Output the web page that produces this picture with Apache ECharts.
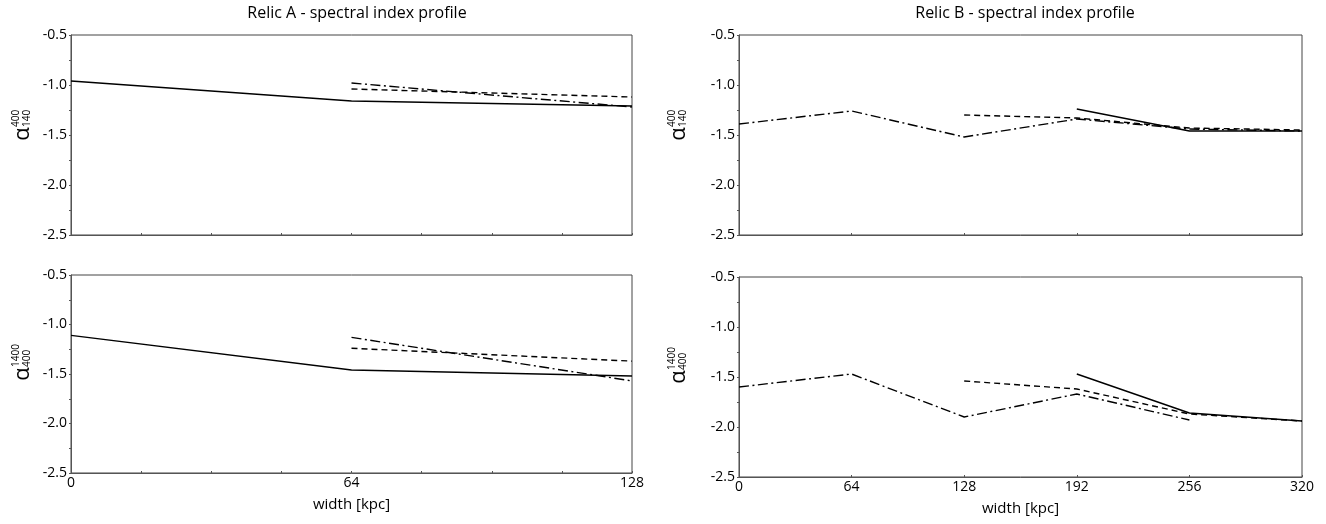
<!DOCTYPE html>
<html>
<head>
<meta charset="utf-8">
<script src="https://cdn.jsdelivr.net/npm/echarts@6/dist/echarts.min.js"></script>
<style>
html,body{margin:0;padding:0;background:#fff;}
#chart{width:1326px;height:524px;}
</style>
</head>
<body>
<div id="chart"></div>
<script>
// ---- Data ----
const titles = ['Relic A - spectral index profile', 'Relic B - spectral index profile'];
const xAxisName = 'width [kpc]';
const yTicks = [-2.5, -2.0, -1.5, -1.0, -0.5];

const relicA_x = [0, 64, 128];
const relicA_top_solid   = [-0.96, -1.16, -1.21];
const relicA_top_dashed  = [null, -1.04, -1.12];
const relicA_top_dashdot = [null, -0.98, -1.22];
const relicA_bot_solid   = [-1.11, -1.46, -1.52];
const relicA_bot_dashed  = [null, -1.24, -1.37];
const relicA_bot_dashdot = [null, -1.13, -1.57];

const relicB_x = [0, 64, 128, 192, 256, 320];
const relicB_top_solid   = [null, null, null, -1.24, -1.46, -1.46];
const relicB_top_dashed  = [null, null, -1.30, -1.33, -1.43, -1.45];
const relicB_top_dashdot = [-1.39, -1.26, -1.52, -1.34, -1.44, -1.46];
const relicB_bot_solid   = [null, null, null, -1.47, -1.86, -1.94];
const relicB_bot_dashed  = [null, null, -1.54, -1.62, -1.87, -1.94];
const relicB_bot_dashdot = [-1.60, -1.47, -1.90, -1.67, -1.93, null];

// ---- Build ----
const FONT = 'Open Sans';
const TXT = '#000';
function pairs(xs, ys) {
  const out = [];
  for (let i = 0; i < xs.length; i++) if (ys[i] !== null) out.push([xs[i], ys[i]]);
  return out;
}
const styles = {
  solid:   { type: 'solid', width: 1.4 },
  dashed:  { type: [6, 4], width: 1.4 },
  dashdot: { type: [10, 3.5, 2, 3.5], width: 1.4 }
};
function line(idx, xs, ys, kind) {
  return {
    type: 'line', xAxisIndex: idx, yAxisIndex: idx,
    data: pairs(xs, ys), showSymbol: false, silent: true,
    lineStyle: Object.assign({ color: '#000' }, styles[kind])
  };
}
const grids = [
  { left: 71, top: 35, width: 561, height: 200 },
  { left: 71, top: 275, width: 561, height: 198 },
  { left: 739, top: 35, width: 563, height: 200 },
  { left: 739, top: 277, width: 563, height: 200 }
].map(g => Object.assign(g, { show: true, borderColor: '#444', borderWidth: 1, backgroundColor: 'transparent' }));

function xAxis(idx, max, showLabels, minor) {
  return {
    type: 'value', gridIndex: idx, min: 0, max: max, interval: 64,
    axisLine: { show: true, lineStyle: { color: '#555', width: 1 } },
    axisTick: { show: true, inside: true, length: 2, lineStyle: { color: '#555' } },
    minorTick: { show: minor, splitNumber: 4, length: 2, lineStyle: { color: '#555' } },
    splitLine: { show: false },
    axisLabel: { show: showLabels, color: TXT, fontSize: 14, fontFamily: FONT, margin: 3 },
    name: showLabels ? xAxisName : '', nameLocation: 'middle', nameGap: 24,
    nameTextStyle: { color: TXT, fontSize: 15, fontFamily: FONT }
  };
}
function yAxis(idx) {
  return {
    type: 'value', gridIndex: idx, min: yTicks[0], max: yTicks[yTicks.length - 1], interval: 0.5,
    axisLine: { show: true, lineStyle: { color: '#555', width: 1 } },
    axisTick: { show: true, inside: false, length: 2, lineStyle: { color: '#555' } },
    minorTick: { show: true, splitNumber: 2, length: 2, lineStyle: { color: '#555' } },
    splitLine: { show: false },
    axisLabel: { color: TXT, fontSize: 14, fontFamily: FONT, margin: 4,
      formatter: v => v.toFixed(1) }
  };
}
function alphaLabel(x, y, sup, sub) {
  return {
    type: 'group', x: x, y: y, rotation: Math.PI / 2, silent: true,
    children: [
      { type: 'text', x: 0, y: 1, style: { text: 'α', fontSize: 22, fontFamily: FONT, fill: TXT, align: 'center', verticalAlign: 'middle' } },
      { type: 'text', x: 7, y: -6, style: { text: sup, fontSize: 10, fontFamily: FONT, fill: TXT, align: 'left', verticalAlign: 'middle' } },
      { type: 'text', x: 7, y: 5, style: { text: sub, fontSize: 10, fontFamily: FONT, fill: TXT, align: 'left', verticalAlign: 'middle' } }
    ]
  };
}

const option = {
  animation: false,
  backgroundColor: '#fff',
  title: [
    { text: titles[0], left: 352, top: 0, textAlign: 'center', textStyle: { fontSize: 16, fontWeight: 'normal', color: TXT, fontFamily: FONT } },
    { text: titles[1], left: 1020, top: 0, textAlign: 'center', textStyle: { fontSize: 16, fontWeight: 'normal', color: TXT, fontFamily: FONT } }
  ],
  grid: grids,
  xAxis: [xAxis(0, 128, false, true), xAxis(1, 128, true, true), xAxis(2, 320, false, false), xAxis(3, 320, true, false)],
  yAxis: [yAxis(0), yAxis(1), yAxis(2), yAxis(3)],
  graphic: [
    alphaLabel(22, 134, '400', '140'),
    alphaLabel(22, 374, '1400', '400'),
    alphaLabel(678, 134, '400', '140'),
    alphaLabel(678, 377, '1400', '400')
  ],
  series: [
    line(0, relicA_x, relicA_top_solid, 'solid'),
    line(0, relicA_x, relicA_top_dashed, 'dashed'),
    line(0, relicA_x, relicA_top_dashdot, 'dashdot'),
    line(1, relicA_x, relicA_bot_solid, 'solid'),
    line(1, relicA_x, relicA_bot_dashed, 'dashed'),
    line(1, relicA_x, relicA_bot_dashdot, 'dashdot'),
    line(2, relicB_x, relicB_top_solid, 'solid'),
    line(2, relicB_x, relicB_top_dashed, 'dashed'),
    line(2, relicB_x, relicB_top_dashdot, 'dashdot'),
    line(3, relicB_x, relicB_bot_solid, 'solid'),
    line(3, relicB_x, relicB_bot_dashed, 'dashed'),
    line(3, relicB_x, relicB_bot_dashdot, 'dashdot')
  ]
};
const chart = echarts.init(document.getElementById('chart'), null, { renderer: 'canvas' });
chart.setOption(option);
</script>
</body>
</html>
